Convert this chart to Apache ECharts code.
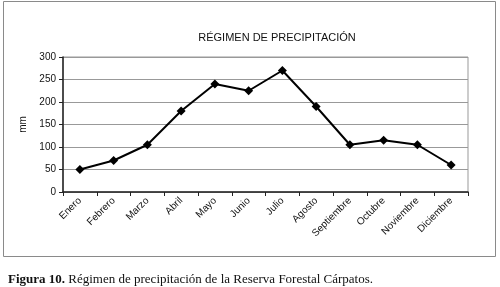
<!DOCTYPE html>
<html>
<head>
<meta charset="utf-8">
<script src="https://cdn.jsdelivr.net/npm/echarts@6/dist/echarts.min.js"></script>
<style>
  html, body { margin: 0; padding: 0; background: #fff; }
  #graph { width: 500px; height: 287px; }
</style>
</head>
<body>
<div id="graph"></div>
<script>
// datos
var meses = ['Enero', 'Febrero', 'Marzo', 'Abril', 'Mayo', 'Junio', 'Julio', 'Agosto', 'Septiembre', 'Octubre', 'Noviembre', 'Diciembre'];
var precipitacion = [50, 70, 105, 180, 240, 225, 270, 190, 105, 115, 105, 60];
var yTicks = [0, 50, 100, 150, 200, 250, 300];

var myChart = echarts.init(document.getElementById('graph'));

var option = {
    animation: false,
    backgroundColor: '#fff',
    title: [
        {
            text: 'RÉGIMEN DE PRECIPITACIÓN',
            left: 272,
            top: 27,
            textAlign: 'center',
            textStyle: { fontFamily: 'Arial, Liberation Sans', fontSize: 11, fontWeight: 'normal', color: '#111' }
        },
        {
            text: '{b|Figura 10.} Régimen de precipitación de la Reserva Forestal Cárpatos.',
            left: 3,
            top: 268,
            textStyle: {
                fontFamily: 'Liberation Serif, Times New Roman',
                fontSize: 13,
                fontWeight: 'normal',
                color: '#111',
                rich: {
                    b: { fontFamily: 'Liberation Serif, Times New Roman', fontSize: 13, fontWeight: 'bold', color: '#111' }
                }
            }
        }
    ],
    graphic: [
        {
            type: 'rect',
            shape: { x: 3.5, y: 1.5, width: 492, height: 255 },
            style: { fill: null, stroke: '#8a8a8a', lineWidth: 1 }
        }
    ],
    grid: {
        left: 63,
        right: 32,
        top: 57,
        bottom: 95,
        show: true,
        borderColor: '#999',
        borderWidth: 1
    },
    xAxis: {
        type: 'category',
        data: meses,
        boundaryGap: true,
        axisLine: { lineStyle: { color: '#222', width: 1.5 } },
        axisTick: { show: true, length: 4, inside: false, lineStyle: { color: '#222' } },
        axisLabel: {
            rotate: 45,
            interval: 0,
            margin: 7,
            fontFamily: 'Arial, Liberation Sans',
            fontSize: 10,
            color: '#111'
        }
    },
    yAxis: {
        type: 'value',
        name: 'mm',
        nameLocation: 'middle',
        nameGap: 32,
        nameRotate: 90,
        nameTextStyle: { fontFamily: 'Arial, Liberation Sans', fontSize: 10, color: '#111' },
        min: yTicks[0],
        max: yTicks[yTicks.length - 1],
        interval: 50,
        axisLine: { show: true, lineStyle: { color: '#222', width: 1.5 } },
        axisTick: { show: true, length: 4, lineStyle: { color: '#222' } },
        axisLabel: {
            margin: 7,
            fontFamily: 'Arial, Liberation Sans',
            fontSize: 10,
            color: '#111'
        },
        splitLine: { show: true, lineStyle: { color: '#999', width: 1 } }
    },
    series: [
        {
            type: 'line',
            data: precipitacion,
            symbol: 'diamond',
            symbolSize: 9,
            itemStyle: { color: '#000' },
            lineStyle: { color: '#000', width: 2 }
        }
    ]
};

myChart.setOption(option);
</script>
</body>
</html>
